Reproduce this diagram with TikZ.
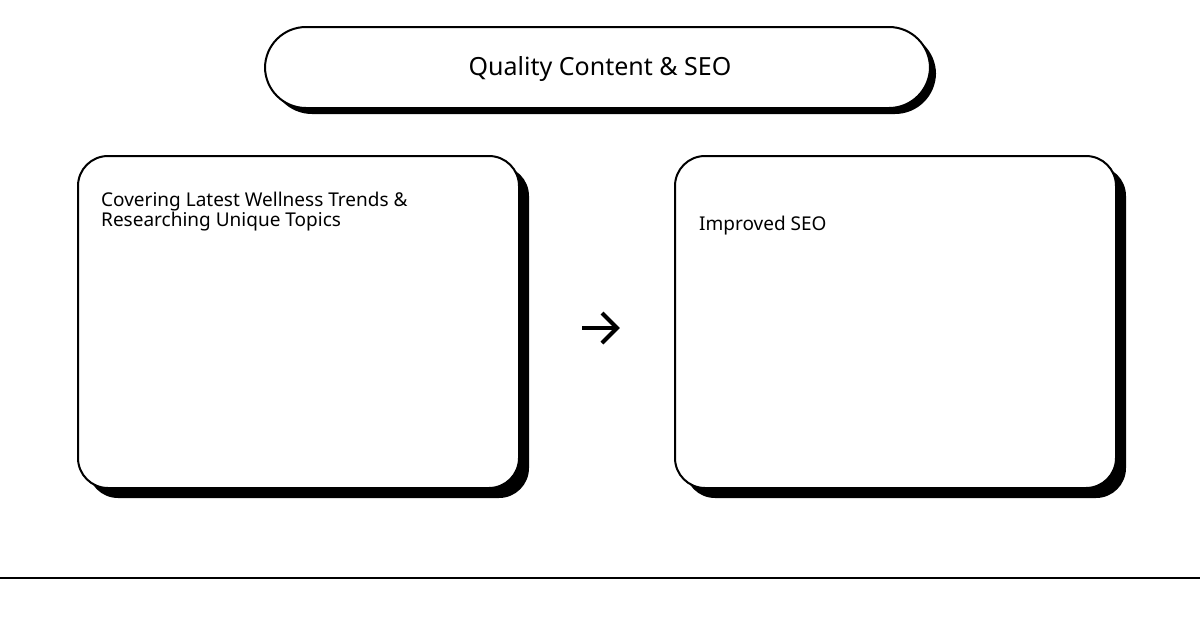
\documentclass[tikz,border=0pt]{standalone}
\usepackage{fontspec}
\setmainfont{Noto Sans}
\begin{document}
\begin{tikzpicture}[x=1pt,y=-1pt,
  box/.style={draw=black,line width=2pt,fill=white},
  shadow/.style={fill=black},
  lbl/.style={font=\bfseries\fontsize{19}{19}\selectfont,anchor=base west,align=left,inner sep=0pt}]
\useasboundingbox[fill=white] (0,0) rectangle (1200,630);
% title pill
\fill[shadow,rounded corners=41pt] (271,33) rectangle (936,114);
\draw[box,rounded corners=41pt] (265,27) rectangle (930,108);
\node[font=\bfseries\fontsize{25}{25}\selectfont] (title) at (600,69) {Quality Content \& SEO};
% left box
\fill[shadow,rounded corners=30pt] (88,166) rectangle (529,498);
\draw[box,rounded corners=30pt] (78,156) rectangle (519,488);
\node[lbl] (l1) at (101,206) {Covering Latest Wellness Trends \&};
\node[lbl] (l2) at (101,226) {Researching Unique Topics};
% right box
\fill[shadow,rounded corners=30pt] (685,166) rectangle (1126,498);
\draw[box,rounded corners=30pt] (675,156) rectangle (1116,488);
\node[lbl] (r1) at (699,230) {Improved SEO};
% arrow
\coordinate (a1) at (582,328);
\coordinate (a2) at (617,328);
\draw[line width=4pt] (a1) -- (615,328);
\draw[line width=4pt,line cap=butt,line join=miter] (602,313) -- (a2) -- (602,343);
% bottom rule
\coordinate (b1) at (0,578);
\coordinate (b2) at (1200,578);
\draw[line width=1.5pt] (b1) -- (b2);
\end{tikzpicture}
\end{document}
